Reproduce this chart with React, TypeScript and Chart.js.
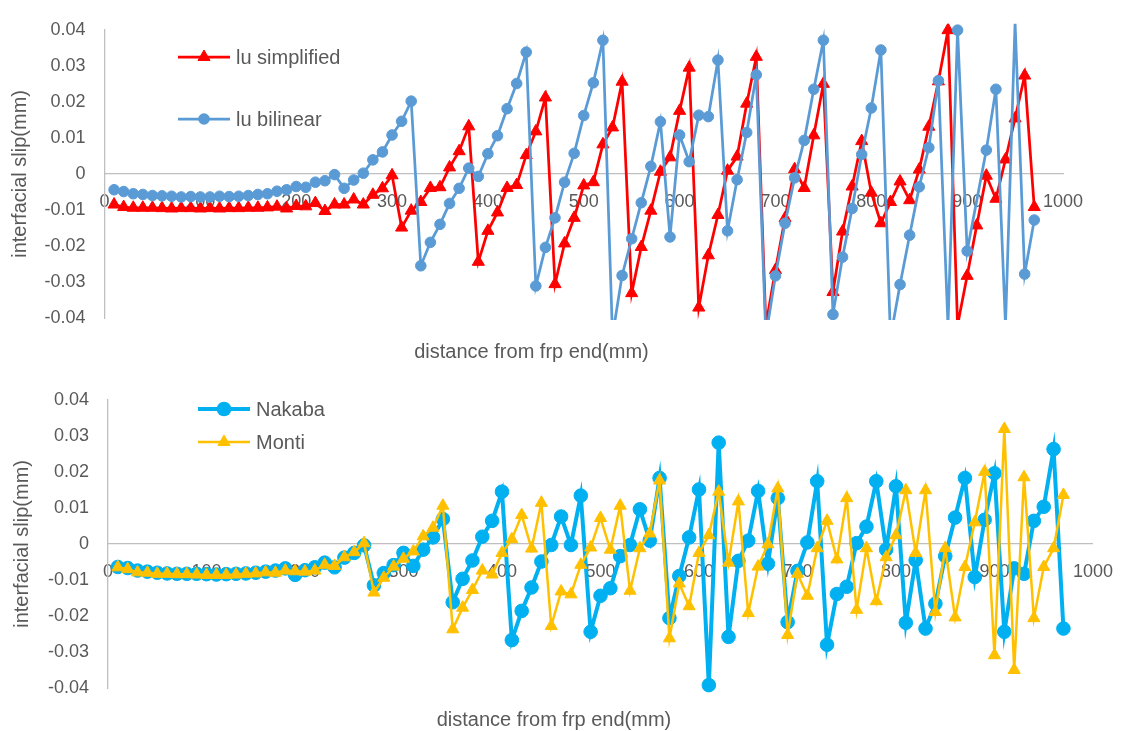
import React, { useEffect, useRef } from "react";
import { Chart, registerables } from "chart.js";

Chart.register(...registerables);

// ---------------- DATA ----------------
const distance = [
  10, 20, 30, 40, 50, 60, 70, 80, 90, 100,
  110, 120, 130, 140, 150, 160, 170, 180, 190, 200,
  210, 220, 230, 240, 250, 260, 270, 280, 290, 300,
  310, 320, 330, 340, 350, 360, 370, 380, 390, 400,
  410, 420, 430, 440, 450, 460, 470, 480, 490, 500,
  510, 520, 530, 540, 550, 560, 570, 580, 590, 600,
  610, 620, 630, 640, 650, 660, 670, 680, 690, 700,
  710, 720, 730, 740, 750, 760, 770, 780, 790, 800,
  810, 820, 830, 840, 850, 860, 870, 880, 890, 900,
  910, 920, 930, 940, 950, 960, 970,
];

const luSimplified = [
  -0.0085, -0.0092, -0.0094, -0.0094, -0.0094, -0.0095, -0.0096, -0.0095, -0.0095, -0.0096,
  -0.0095, -0.0096, -0.0095, -0.0095, -0.0094, -0.0094, -0.0093, -0.0091, -0.0096, -0.0089,
  -0.009, -0.0081, -0.0103, -0.0085, -0.0085, -0.0071, -0.0085, -0.0058, -0.004, -0.0004,
  -0.0149, -0.0102, -0.0078, -0.0039, -0.0037, 0.0018, 0.0063, 0.0132, -0.0244, -0.0158,
  -0.0107, -0.0039, -0.0031, 0.0052, 0.0118, 0.0212, -0.0306, -0.0193, -0.0122, -0.0032,
  -0.0023, 0.0082, 0.0129, 0.0256, -0.0331, -0.0203, -0.0102, 0.0006, 0.0046, 0.0175,
  0.0295, -0.0371, -0.0226, -0.0114, 0.0009, 0.0048, 0.0195, 0.0325, -0.042, -0.0267,
  -0.0123, 0.0013, -0.0039, 0.0107, 0.025, -0.0328, -0.016, -0.0035, 0.0091, -0.0052,
  -0.0137, -0.0078, -0.0021, -0.0073, 0.0012, 0.0131, 0.0257, 0.0399, -0.042, -0.0283,
  -0.0143, -0.0005, -0.0069, 0.004, 0.0154, 0.0273, -0.0092,
];

const luBilinear = [
  -0.0044, -0.0049, -0.0055, -0.0057, -0.006, -0.0061, -0.0062, -0.0064, -0.0063, -0.0064,
  -0.0064, -0.0062, -0.0063, -0.0062, -0.006, -0.0057, -0.0055, -0.0048, -0.0044, -0.0035,
  -0.0037, -0.0023, -0.0019, -0.0002, -0.004, -0.0017, 0.0002, 0.0039, 0.0061, 0.0108,
  0.0146, 0.0202, -0.0255, -0.019, -0.014, -0.0082, -0.004, 0.0016, -0.0007, 0.0056,
  0.0106, 0.0181, 0.0251, 0.0338, -0.0311, -0.0204, -0.0122, -0.0023, 0.0057, 0.0162,
  0.0253, 0.0371, -0.045, -0.0282, -0.018, -0.008, 0.0021, 0.0145, -0.0175, 0.0108,
  0.0034, 0.0163, 0.0159, 0.0316, -0.0158, -0.0016, 0.0115, 0.0275, -0.045, -0.0283,
  -0.0137, -0.0011, 0.0093, 0.0235, 0.0371, -0.039, -0.0231, -0.0096, 0.0054, 0.0183,
  0.0344, -0.0455, -0.0307, -0.017, -0.0036, 0.0073, 0.0259, -0.042, 0.0399, -0.0214,
  null, 0.0066, 0.0235, -0.042, 0.042, -0.0278, -0.0128,
];

const nakaba = [
  -0.0064, -0.0067, -0.0074, -0.0077, -0.008, -0.0082, -0.0083, -0.0083, -0.0083, -0.0084,
  -0.0085, -0.0084, -0.0083, -0.0082, -0.008, -0.0077, -0.0074, -0.0068, -0.0086, -0.0073,
  -0.0065, -0.0052, -0.0065, -0.0038, -0.0025, -0.0004, -0.0115, -0.0081, -0.0059, -0.0025,
  -0.0061, -0.0016, 0.0018, 0.0069, -0.0162, -0.0097, -0.0046, 0.002, 0.0064, 0.0145,
  -0.0267, -0.0186, -0.0121, -0.0049, -0.0003, 0.0076, -0.0003, 0.0134, -0.0244, -0.0144,
  -0.0123, -0.0034, -0.0003, 0.0096, 0.0009, 0.0183, -0.0206, -0.0089, 0.0018, 0.0151,
  -0.0392, 0.0281, -0.0258, -0.0047, 0.0009, 0.0147, -0.0055, 0.0127, -0.0217, -0.0075,
  0.0004, 0.0174, -0.028, -0.0139, -0.0119, 0.0002, 0.0048, 0.0174, -0.0016, 0.016,
  -0.0219, -0.0045, -0.0235, -0.0166, -0.0034, 0.0073, 0.0183, -0.0092, 0.0067, 0.0196,
  -0.0244, -0.0068, -0.0083, 0.0064, 0.0103, 0.0263, -0.0235,
];

const monti = [
  -0.0065, -0.007, -0.0079, -0.008, -0.0083, -0.0083, -0.0084, -0.0084, -0.0085, -0.0086,
  -0.0086, -0.0086, -0.0085, -0.0083, -0.0082, -0.0079, -0.008, -0.0074, -0.0076, -0.0077,
  -0.0074, -0.0058, -0.0061, -0.0037, -0.0023, 0.0002, -0.0135, -0.0094, -0.0063, -0.0041,
  -0.0021, 0.0021, 0.0045, 0.0106, -0.0237, -0.0177, -0.0128, -0.0074, -0.0085, -0.0025,
  0.0013, 0.008, -0.0013, 0.0114, -0.0228, -0.0132, -0.014, -0.0058, -0.001, 0.0072,
  -0.0016, 0.0106, -0.013, -0.0012, 0.0029, 0.0176, -0.0262, -0.011, -0.0173, -0.0025,
  0.0024, 0.0145, -0.0052, 0.0118, -0.0192, -0.0063, -0.0001, 0.0154, -0.0253, -0.0083,
  -0.0144, -0.0012, 0.0064, -0.0043, 0.0127, -0.0183, -0.0012, -0.0159, -0.0037, 0.0024,
  0.0149, -0.0025, 0.0149, -0.0189, -0.0012, -0.0204, -0.0064, 0.006, 0.02, -0.0309,
  0.0319, -0.035, 0.0185, -0.0206, -0.0064, -0.0012, 0.0136,
];

const xTickValues = [0, 100, 200, 300, 400, 500, 600, 700, 800, 900, 1000];
const yTickValues = [-0.04, -0.03, -0.02, -0.01, 0, 0.01, 0.02, 0.03, 0.04];
const xAxisTitle = "distance from frp end(mm)";
const yAxisTitle = "interfacial slip(mm)";

// ---------------- STYLE ----------------
const W = 1130;
const TEXT = "#595959";
const AXIS = "#BFBFBF";
const FONT = "'Liberation Sans', Arial, sans-serif";

type Series = {
  label: string;
  values: (number | null)[];
  color: string;
  lineWidth: number;
  pointStyle: "circle" | "triangle";
  pointRadius: number;
  order: number;
};

type Panel = {
  series: Series[];
  height: number;
  area: { left: number; right: number; top: number; bottom: number };
  yTickPad: number;
  yTitlePad: number;
  xTitlePadBottom: number;
  clip: { left: number; right: number; top: number; bottom: number };
};

const topPanel: Panel = {
  series: [
    { label: "lu simplified", values: luSimplified, color: "#FF0000", lineWidth: 2.75, pointStyle: "triangle", pointRadius: 7, order: 1 },
    { label: "lu bilinear", values: luBilinear, color: "#5B9BD5", lineWidth: 2.75, pointStyle: "circle", pointRadius: 5.3, order: 0 },
  ],
  height: 370,
  area: { left: 104.5, right: 1063, top: 25, bottom: 318 },
  yTickPad: 19,
  yTitlePad: 10,
  xTitlePadBottom: 8,
  clip: { left: 8, right: 8, top: 6, bottom: 2 },
};

const bottomPanel: Panel = {
  series: [
    { label: "Nakaba", values: nakaba, color: "#00B0F0", lineWidth: 4, pointStyle: "circle", pointRadius: 6.8, order: 1 },
    { label: "Monti", values: monti, color: "#FFC000", lineWidth: 2.5, pointStyle: "triangle", pointRadius: 7, order: 0 },
  ],
  height: 361,
  area: { left: 108, right: 1108, top: 20.7, bottom: 318 },
  yTickPad: 19,
  yTitlePad: 12,
  xTitlePadBottom: 1,
  clip: { left: 8, right: 8, top: 8, bottom: 8 },
};

function fmtY(v: number) {
  const n = parseFloat(Number(v).toFixed(2));
  return (Object.is(n, -0) ? 0 : n).toString();
}

function makeChart(canvas: HTMLCanvasElement, p: Panel) {
  const tickFont = { family: FONT, size: 18 };
  const titleFont = { family: FONT, size: 20, lineHeight: 1, weight: "normal" as const };
  const titleBoxHeight = p.height - p.area.bottom;
  return new Chart(canvas, {
    type: "line",
    data: {
      datasets: p.series.map((s) => ({
        label: s.label,
        data: distance.map((d, i) => ({ x: d, y: s.values[i] })),
        borderColor: s.color,
        backgroundColor: s.color,
        borderWidth: s.lineWidth,
        pointStyle: s.pointStyle,
        pointRadius: s.pointRadius,
        pointBackgroundColor: s.color,
        pointBorderColor: s.color,
        pointBorderWidth: 1,
        tension: 0,
        fill: false,
        spanGaps: true,
        order: s.order,
        clip: p.clip,
      })),
    },
    options: {
      animation: false,
      responsive: false,
      maintainAspectRatio: false,
      devicePixelRatio: 1,
      events: [],
      layout: {
        padding: { top: p.area.top, right: W - p.area.right, left: 0, bottom: 0 },
      },
      plugins: {
        legend: { display: false },
        tooltip: { enabled: false },
        title: {
          display: true,
          position: "bottom",
          text: xAxisTitle,
          color: TEXT,
          font: titleFont,
          padding: {
            top: titleBoxHeight - 20 - p.xTitlePadBottom,
            bottom: p.xTitlePadBottom,
          },
        },
      },
      scales: {
        x: {
          type: "linear",
          min: 0,
          max: 1000,
          position: { y: 0 } as any,
          grid: { display: false, drawTicks: false },
          border: { display: true, color: AXIS, width: 1.3 },
          ticks: {
            color: TEXT,
            font: tickFont,
            padding: 17,
            maxRotation: 0,
            autoSkip: false,
            callback: (v: any) => String(v),
          },
          afterBuildTicks: (scale: any) => {
            scale.ticks = xTickValues.map((v) => ({ value: v }));
          },
          afterFit: (scale: any) => {
            scale.height = 0;
          },
        },
        y: {
          type: "linear",
          position: "left",
          min: -0.04,
          max: 0.04,
          grid: { display: false, drawTicks: false },
          border: { display: true, color: AXIS, width: 1.3 },
          ticks: {
            color: TEXT,
            font: tickFont,
            padding: p.yTickPad,
            autoSkip: false,
            callback: (v: any) => fmtY(v),
          },
          afterBuildTicks: (scale: any) => {
            scale.ticks = yTickValues.map((v) => ({ value: v }));
          },
          title: {
            display: true,
            text: yAxisTitle,
            color: TEXT,
            font: titleFont,
            padding: { top: p.yTitlePad, bottom: 0 },
          },
          afterFit: (scale: any) => {
            scale.width = p.area.left;
          },
        },
      },
    } as any,
  });
}

function ChartPanel({ panel, top }: { panel: Panel; top: number }) {
  const ref = useRef<HTMLCanvasElement | null>(null);
  useEffect(() => {
    if (!ref.current) return;
    const chart = makeChart(ref.current, panel);
    return () => chart.destroy();
  }, [panel]);
  return (
    <canvas
      ref={ref}
      width={W}
      height={panel.height}
      style={{ position: "absolute", left: 0, top, width: W, height: panel.height, display: "block" }}
    />
  );
}

type LegendItem = { label: string; color: string; lineWidth: number; marker: "circle" | "triangle"; r: number; x1: number; x2: number; y: number };

const legendItems: LegendItem[] = [
  { label: topPanel.series[0].label, color: "#FF0000", lineWidth: 2.75, marker: "triangle", r: 7, x1: 178, x2: 230, y: 57 },
  { label: topPanel.series[1].label, color: "#5B9BD5", lineWidth: 2.75, marker: "circle", r: 5.8, x1: 178, x2: 230, y: 119 },
  { label: bottomPanel.series[0].label, color: "#00B0F0", lineWidth: 4, marker: "circle", r: 7.3, x1: 198, x2: 250, y: 409 },
  { label: bottomPanel.series[1].label, color: "#FFC000", lineWidth: 2.5, marker: "triangle", r: 7, x1: 198, x2: 250, y: 442 },
];

function Legend() {
  return (
    <svg
      width={W}
      height={731}
      style={{ position: "absolute", left: 0, top: 0, pointerEvents: "none" }}
    >
      {legendItems.map((it) => {
        const cx = (it.x1 + it.x2) / 2;
        const r = it.r;
        const tri = `${cx},${it.y - r} ${cx + r * 0.866},${it.y + r * 0.5} ${cx - r * 0.866},${it.y + r * 0.5}`;
        return (
          <g key={it.label}>
            <line x1={it.x1} x2={it.x2} y1={it.y} y2={it.y} stroke={it.color} strokeWidth={it.lineWidth} />
            {it.marker === "circle" ? (
              <circle cx={cx} cy={it.y} r={r} fill={it.color} />
            ) : (
              <polygon points={tri} fill={it.color} stroke={it.color} strokeWidth={1} />
            )}
            <text
              x={it.x2 + 6}
              y={it.y}
              dominantBaseline="central"
              fill={TEXT}
              style={{ fontFamily: FONT, fontSize: 20 }}
            >
              {it.label}
            </text>
          </g>
        );
      })}
    </svg>
  );
}

export default function App() {
  return (
    <div style={{ position: "absolute", left: 0, top: 0, width: W, height: 731, background: "#ffffff", overflow: "hidden" }}>
      <ChartPanel panel={topPanel} top={0} />
      <ChartPanel panel={bottomPanel} top={370} />
      <Legend />
    </div>
  );
}
